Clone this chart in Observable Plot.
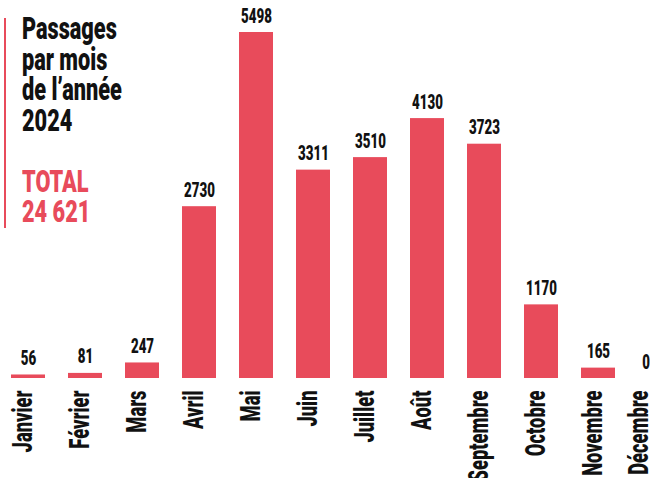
<!DOCTYPE html>
<html><head><meta charset="utf-8">
<script src="https://cdn.jsdelivr.net/npm/d3@7"></script>
<script src="https://cdn.jsdelivr.net/npm/@observablehq/plot@0.6"></script>
<style>
body{margin:0;background:#fff}
#wrap{position:relative;width:650px;height:478px;overflow:hidden}
#title{position:absolute;left:22px;top:14px;font-family:Roboto,sans-serif;font-weight:900;font-size:31px;line-height:30.5px;color:#111;z-index:2}
#title div{transform:scaleX(0.7);transform-origin:0 0;white-space:nowrap;height:30.5px}
#title .red{color:#e84b5b}
#vbar{position:absolute;left:4px;top:18px;width:2px;height:210px;background:#e84b5b;z-index:2}
</style></head><body><div id="wrap"></div>
<script>
const months = ["Janvier","Février","Mars","Avril","Mai","Juin","Juillet","Août","Septembre","Octobre","Novembre","Décembre"];
const passages = [56,81,247,2730,5498,3311,3510,4130,3723,1170,165,0];
const titleLines = ["Passages","par mois","de l’année","2024"];
const totalLines = ["TOTAL","24 621"];

const RED = "#e84b5b";
const INK = "#111";
const data = months.map((m,i)=>({month:m, value:passages[i]}));
const main = data.slice(0,11), last = data.slice(11);
const font = {fontFamily:"Roboto", fontWeight:900, fill:INK};

const valueOpts = {x:"month", y:"value", text:d=>String(d.value), lineAnchor:"bottom", dy:-10, fontSize:20.5, ...font};
const monthOpts = {x:"month", frameAnchor:"bottom", text:"month", rotate:-90, textAnchor:"end", lineAnchor:"middle", dy:12, fontSize:27, ...font};

const chart = Plot.plot({
  width:650, height:478,
  marginTop:32, marginBottom:100, marginLeft:0, marginRight:0,
  x:{domain:months, range:[11,672.2], paddingInner:0.4, paddingOuter:0, axis:null},
  y:{domain:[0,5498], axis:null},
  marks:[
    Plot.barY(data,{x:"month", y:"value", fill:RED}),
    Plot.text(main,{...valueOpts}),
    Plot.text(last,{...valueOpts, dx:-9.5}),
    Plot.text(main,{...monthOpts, dx:-5}),
    Plot.text(last,{...monthOpts, dx:-16})
  ]
});
chart.querySelectorAll("text").forEach(t=>{
  let tr = t.getAttribute("transform") || "";
  const x = t.getAttribute("x"), y = t.getAttribute("y");
  const num = v => v != null && /^-?[\d.]+$/.test(v);
  if (num(x) || num(y)) {
    tr = `translate(${num(x)?x:0},${num(y)?y:0}) ` + tr;
    if (num(x)) t.removeAttribute("x");
    if (num(y)) t.removeAttribute("y");
  }
  const rotated = /rotate/.test(tr);
  t.setAttribute("transform", tr + (rotated ? " scale(0.68,1)" : " scale(0.65,1)"));
});
const wrap = document.getElementById("wrap");
wrap.appendChild(chart);
const vb = document.createElement("div"); vb.id="vbar"; wrap.appendChild(vb);
const title = document.createElement("div"); title.id="title";
titleLines.forEach(s=>{const d=document.createElement("div"); d.textContent=s; title.appendChild(d);});
title.appendChild(document.createElement("div"));
totalLines.forEach(s=>{const d=document.createElement("div"); d.className="red"; d.textContent=s; title.appendChild(d);});
wrap.appendChild(title);
</script></body></html>
